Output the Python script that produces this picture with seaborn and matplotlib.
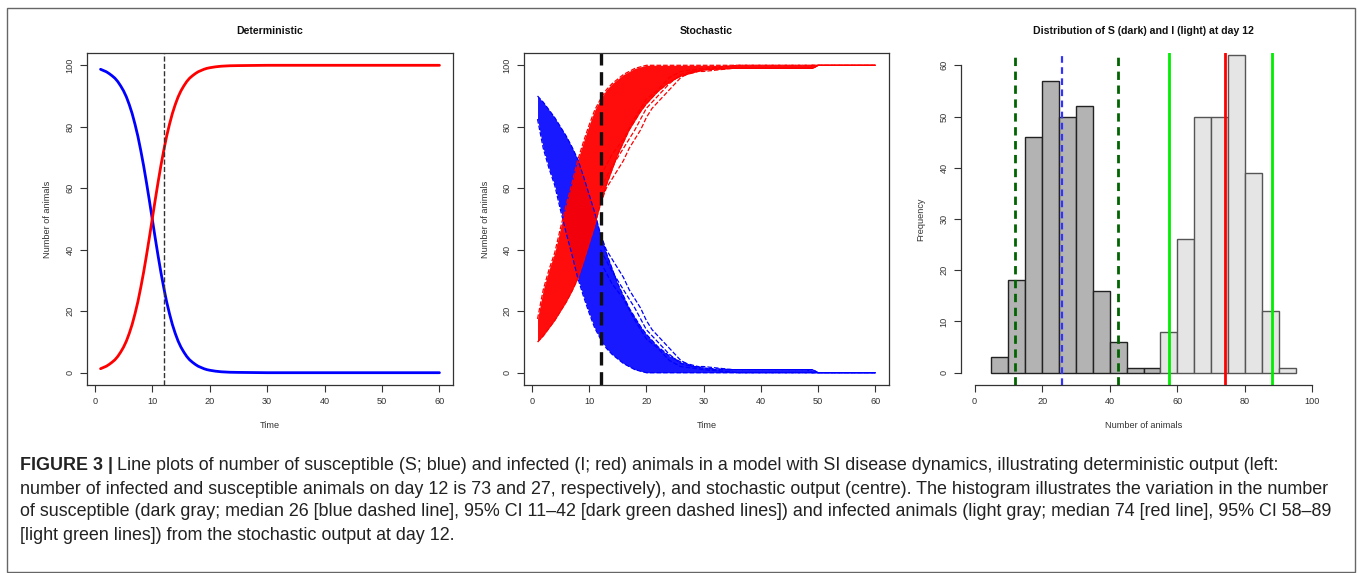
import matplotlib
matplotlib.use('Agg')
import matplotlib.pyplot as plt
from matplotlib.patches import Rectangle
import seaborn as sns

# deterministic SI model
det_time = [1, 1.5, 2, 2.5, 3, 3.5, 4, 4.5, 5, 5.5, 6, 6.5, 7, 7.5, 8, 8.5, 9, 9.5, 10, 10.5,
            11, 11.5, 12, 12.5, 13, 13.5, 14, 14.5, 15, 15.5, 16, 16.5, 17, 17.5, 18, 18.5,
            19, 19.5, 20, 21, 22, 23.5, 25, 30, 40, 50, 60]
det_infected = [1.3, 1.7, 2.1, 2.7, 3.4, 4.2, 5.3, 6.7, 8.3, 10.3, 12.8, 15.7, 19.2, 23.1, 27.7, 32.7,
                38.2, 44.0, 50, 56.0, 61.8, 67.3, 72.3, 76.9, 80.8, 84.3, 87.2, 89.7, 91.7, 93.3,
                94.7, 95.8, 96.6, 97.3, 97.9, 98.3, 98.7, 99.0, 99.2, 99.5, 99.7, 99.85, 99.9,
                100, 100, 100, 100]
det_susceptible = [98.7, 98.3, 97.9, 97.3, 96.6, 95.8, 94.7, 93.3, 91.7, 89.7, 87.2, 84.3, 80.8, 76.9,
                   72.3, 67.3, 61.8, 56.0, 50, 44.0, 38.2, 32.7, 27.7, 23.1, 19.2, 15.7, 12.8, 10.3,
                   8.3, 6.7, 5.3, 4.2, 3.4, 2.7, 2.1, 1.7, 1.3, 1.0, 0.8, 0.5, 0.3, 0.15, 0.1,
                   0, 0, 0, 0]

# stochastic runs: envelope of the dense band of trajectories
sto_time = [1, 2, 3, 4, 5, 6, 7, 8, 9, 10, 11, 12, 13, 14, 15, 16, 17, 18, 19, 20,
            22, 24, 26, 28, 30, 35, 40, 45, 49, 50, 60]
s_band_high = [90, 88, 85.5, 83, 80, 77, 73.5, 69.5, 64, 58, 52, 45, 39, 34, 29, 25, 21, 18, 15, 12.5,
               8.5, 5.5, 3.5, 2.5, 1.5, 1, 1, 1, 1, 0, 0]
s_band_low = [82.5, 73, 66.5, 61, 53, 45.5, 38.5, 31, 25, 19.5, 14.5, 11, 8, 6, 4.5, 3, 2, 1, 0.5, 0,
              0, 0, 0, 0, 0, 0, 0, 0, 0, 0, 0]
i_band_high = [17.5, 27, 33.5, 39, 47, 54.5, 61.5, 69, 75, 80.5, 85.5, 89, 92, 94, 95.5, 97, 98, 99, 99.5, 100,
               100, 100, 100, 100, 100, 100, 100, 100, 100, 100, 100]
i_band_low = [10, 12, 14.5, 17, 20, 23, 26.5, 30.5, 36, 42, 48, 55, 61, 66, 71, 75, 79, 82, 85, 87.5,
              91.5, 94.5, 96.5, 97.5, 98.5, 99, 99, 99, 99, 100, 100]

# a few slow runs that stand out of the band
slow_a_time = [12, 13, 14, 15, 16, 17, 18, 19, 20, 21, 22, 23, 24, 25, 26, 27, 28, 30, 35, 49, 50, 60]
slow_a_s = [45, 40, 37, 34, 31, 27, 24, 21, 17, 14, 12, 10, 8, 6, 4, 3, 2, 2, 1, 1, 0, 0]
slow_a_i = [55, 60, 63, 66, 69, 73, 76, 79, 83, 86, 88, 90, 92, 94, 96, 97, 98, 98, 99, 99, 100, 100]
slow_b_time = [12, 14, 16, 18, 20, 22, 24, 26, 28, 32, 48, 49, 60]
slow_b_s = [40, 33, 27, 21, 14, 10, 6, 3, 2, 1, 1, 0, 0]
slow_b_i = [60, 67, 73, 79, 86, 90, 94, 97, 98, 99, 99, 100, 100]
slow_c_time = [12, 14, 16, 18, 20, 22, 24, 26, 30, 36, 60]
slow_c_s = [36, 29, 24, 17, 11, 8, 4, 2, 1, 0, 0]
slow_c_i = [64, 71, 76, 83, 89, 92, 96, 98, 99, 100, 100]

# histogram at day 12
s_edges = [5, 10, 15, 20, 25, 30, 35, 40, 45, 50, 55]
s_counts = [3, 18, 46, 57, 50, 52, 16, 6, 1, 1]
i_edges = [55, 60, 65, 70, 75, 80, 85, 90, 95]
i_counts = [8, 26, 50, 50, 62, 39, 12, 1]
s_median, s_ci = 26, [11.9, 42.5]
i_median, i_ci = 74, [57.5, 88]

sns.set_style('ticks')
plt.rcParams['font.family'] = ['Liberation Sans', 'DejaVu Sans']

W, H = 1357, 573
fig = plt.figure(figsize=(W / 100, H / 100), dpi=100)
bottom, height = (H - 385) / H, 332 / H
ax1 = fig.add_axes([87 / W, bottom, 366 / W, height])
ax2 = fig.add_axes([524 / W, bottom, 365 / W, height])
ax3 = fig.add_axes([961 / W, bottom, 365 / W, height])

ink = '#333333'
for ax in (ax1, ax2, ax3):
    ax.tick_params(labelsize=6.6, length=5, width=0.8, color=ink, labelcolor=ink, pad=4)
    ax.tick_params(axis='y', labelrotation=90)
    for spine in ax.spines.values():
        spine.set_color(ink)
        spine.set_linewidth(0.9)

# left: deterministic
sns.lineplot(x=det_time, y=det_susceptible, ax=ax1, color='blue', linewidth=2)
sns.lineplot(x=det_time, y=det_infected, ax=ax1, color='red', linewidth=2)
ax1.axvline(12, color=ink, linestyle='--', linewidth=1)

# centre: stochastic
ax2.fill_between(sto_time, s_band_low, s_band_high, color='blue', alpha=0.9, linewidth=0)
for yy in (s_band_low, s_band_high):
    sns.lineplot(x=sto_time, y=yy, ax=ax2, color='blue', linewidth=0.9, linestyle='--')
for tt, ss in [(slow_a_time, slow_a_s), (slow_b_time, slow_b_s), (slow_c_time, slow_c_s)]:
    sns.lineplot(x=tt, y=ss, ax=ax2, color='blue', linewidth=0.9, linestyle='--')
ax2.fill_between(sto_time, i_band_low, i_band_high, color='red', alpha=0.95, linewidth=0)
for yy in (i_band_low, i_band_high):
    sns.lineplot(x=sto_time, y=yy, ax=ax2, color='red', linewidth=0.9, linestyle='--')
for tt, ii in [(slow_a_time, slow_a_i), (slow_b_time, slow_b_i), (slow_c_time, slow_c_i)]:
    sns.lineplot(x=tt, y=ii, ax=ax2, color='red', linewidth=0.9, linestyle='--')
ax2.axvline(12, color='#111111', linestyle=(0, (4, 2)), linewidth=2.4)

for ax, title in [(ax1, 'Deterministic'), (ax2, 'Stochastic')]:
    ax.set_xlim(-1.36, 62.36)
    ax.set_ylim(-4, 104)
    ax.set_xticks(range(0, 61, 10))
    ax.set_yticks(range(0, 101, 20))
    ax.set_xlabel('Time', fontsize=6.6, color=ink)
    ax.set_ylabel('Number of animals', fontsize=6.6, color=ink)
    ax.xaxis.set_label_coords(0.5, -41 / 332)
    ax.yaxis.set_label_coords(-39 / 366, 0.5)
    ax.xaxis.label.set_va('center')
    ax.yaxis.label.set_va('center')
    ax.text(0.5, 1 + 22 / 332, title, transform=ax.transAxes, ha='center', va='center',
            fontsize=7.6, fontweight='bold', color='#111111')

# right: histogram
s_mid = [(a + b) / 2 for a, b in zip(s_edges[:-1], s_edges[1:])]
i_mid = [(a + b) / 2 for a, b in zip(i_edges[:-1], i_edges[1:])]
sns.histplot(x=s_mid, weights=s_counts, bins=s_edges, ax=ax3, color='#b3b3b3', alpha=1,
             edgecolor='#222222', linewidth=1)
sns.histplot(x=i_mid, weights=i_counts, bins=i_edges, ax=ax3, color='#e5e5e5', alpha=1,
             edgecolor='#555555', linewidth=1)
for x in s_ci:
    ax3.axvline(x, color='darkgreen', linestyle=(0, (3, 2)), linewidth=2)
ax3.axvline(s_median, color='#3333ff', linestyle=(0, (3, 2)), linewidth=1.6)
for x in i_ci:
    ax3.axvline(x, color='#00ee00', linewidth=2)
ax3.axvline(i_median, color='red', linewidth=2)
ax3.set_xlim(-4, 104)
ax3.set_ylim(-2.4, 62.4)
ax3.set_xticks(range(0, 101, 20))
ax3.set_yticks(range(0, 61, 10))
ax3.spines['top'].set_visible(False)
ax3.spines['right'].set_visible(False)
ax3.spines['left'].set_bounds(0, 60)
ax3.spines['bottom'].set_bounds(0, 100)
ax3.set_xlabel('Number of animals', fontsize=6.6, color=ink)
ax3.set_ylabel('Frequency', fontsize=6.6, color=ink)
ax3.xaxis.set_label_coords(0.5, -41 / 332)
ax3.yaxis.set_label_coords(-40 / 365, 0.5)
ax3.xaxis.label.set_va('center')
ax3.yaxis.label.set_va('center')
ax3.text(0.5, 1 + 22 / 332, 'Distribution of S (dark) and I (light) at day 12', transform=ax3.transAxes,
         ha='center', va='center', fontsize=7.6, fontweight='bold', color='#111111')

for ax in (ax1, ax2, ax3):
    plt.setp(ax.get_yticklabels(), va='center')

# frame and caption
fig.add_artist(Rectangle((7 / W, 1 / H), 1348 / W, (H - 9) / H, transform=fig.transFigure,
                         fill=False, edgecolor='#666666', linewidth=1))
caption = [
    'Line plots of number of susceptible (S; blue) and infected (I; red) animals in a model with SI disease dynamics, illustrating deterministic output (left:',
    'number of infected and susceptible animals on day 12 is 73 and 27, respectively), and stochastic output (centre). The histogram illustrates the variation in the number',
    'of susceptible (dark gray; median 26 [blue dashed line], 95% CI 11\u201342 [dark green dashed lines]) and infected animals (light gray; median 74 [red line], 95% CI 58\u201389',
    '[light green lines]) from the stochastic output at day 12.',
]
cap_size = 12.9
line_y = [466, 489, 512, 535]
renderer = fig.canvas.get_renderer()
head = fig.text(20 / W, 1 - line_y[0] / H, 'FIGURE 3 |', fontsize=cap_size, fontweight='bold',
                color='#222222', va='center')
head_end = head.get_window_extent(renderer).x1
fig.text((head_end + 4) / W, 1 - line_y[0] / H, caption[0], fontsize=cap_size,
         color='#222222', va='center')
for y, line in zip(line_y[1:], caption[1:]):
    fig.text(20 / W, 1 - y / H, line, fontsize=cap_size, color='#222222', va='center')

fig.savefig('out.png', dpi=100)
